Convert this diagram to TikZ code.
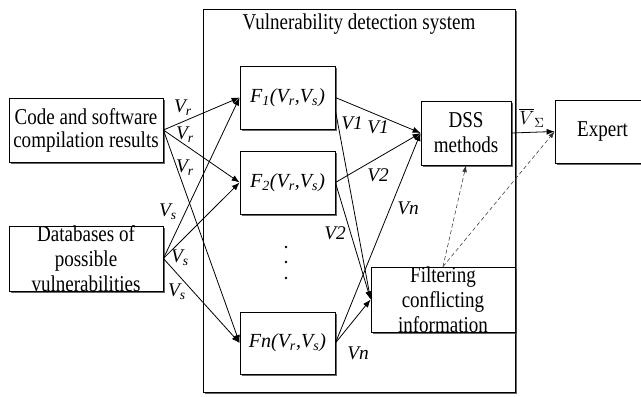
\documentclass[tikz,border=0pt]{standalone}
\usepackage{fontspec}
\setmainfont{Liberation Serif}
\newfontfamily\condfont{Liberation Serif}[FakeStretch=0.84]
\usetikzlibrary{arrows.meta,shadows}

\tikzset{
  blk/.style={draw,fill=white,inner sep=0pt,line width=0.6pt,
    drop shadow={shadow xshift=1.2pt,shadow yshift=-1.2pt,fill=black!75,opacity=0.8}},
  txt/.style={align=center,inner sep=0pt,font=\condfont\fontsize{17}{18.75}\selectfont},
  lbl/.style={inner sep=0pt,font=\fontsize{14.5}{17}\selectfont\itshape},
  flbl/.style={inner sep=0pt,font=\fontsize{15}{17}\selectfont\itshape},
  arr/.style={-{Latex[length=6pt,width=4.5pt]},line width=0.6pt},
  dsh/.style={-{Latex[length=5pt,width=3.5pt]},densely dashed,line width=0.4pt,draw=black!80}
}

\begin{document}
\begin{tikzpicture}[x=0.75pt,y=-0.75pt]
\useasboundingbox (0,0) rectangle (641,396);
% system frame
\node[blk,minimum width=234pt,minimum height=287.25pt] (sys) at (359.5,200.5) {};
\node[txt] (title) at (359,24) {Vulnerability detection system};
% inputs
\node[blk,minimum width=115.5pt,minimum height=48pt,
  label={[txt,font=\condfont\fontsize{17}{17.25}\selectfont]center:Code and software\\compilation results}] (code) at (86,130) {};
\node[blk,minimum width=115.5pt,minimum height=48.75pt,
  label={[txt]center:Databases of\\possible\\vulnerabilities}] (db) at (86,258.5) {};
% functions
\node[blk,minimum width=71.25pt,minimum height=47.25pt,flbl] (f1) at (287.5,97.5)
  {F\textsubscript{1}(V\textsubscript{r},V\textsubscript{s})};
\node[blk,minimum width=71.25pt,minimum height=47.25pt,flbl] (f2) at (287.5,182.5)
  {F\textsubscript{2}(V\textsubscript{r},V\textsubscript{s})};
\node[blk,minimum width=71.25pt,minimum height=46.5pt,flbl] (fn) at (287.5,343)
  {Fn(V\textsubscript{r},V\textsubscript{s})};
\foreach \y in {247,262,278}
  \fill (286,\y) circle (1.3);
% outputs
\node[blk,minimum width=67.5pt,minimum height=48pt,
  label={[txt]center:DSS\\methods}] (dss) at (466,133) {};
\node[blk,minimum width=108pt,minimum height=48.75pt,
  label={[txt]center:Filtering\\conflicting\\information}] (filt) at (443,299.5) {};
\node[blk,minimum width=71.25pt,minimum height=47.25pt,txt] (expert) at (602.5,131.5) {Expert};

\foreach \a/\b in {code/f1,code/f2,code/fn,db/f1,db/f2,db/fn,f1/dss,f2/dss,fn/dss,f2/filt,fn/filt,dss/expert}
  \draw[arr] (\a.east) -- (\b.west);
\draw[arr] (f1.-15) -- (filt.west);
\draw[dsh] (filt.north) -- (dss.south);
\draw[dsh] (filt.north) -- (expert.west);

% labels
\foreach \p/\t in {{183,108}/V\textsubscript{r},{185,135}/V\textsubscript{r},{185,168}/V\textsubscript{r},
  {168,212}/V\textsubscript{s},{180,258}/V\textsubscript{s},{177,292}/V\textsubscript{s},
  {352,123}/V1,{378,127}/V1,{378,175}/V2,{335,233}/V2,{408,208}/Vn,{358,353}/Vn}
  \node[lbl] at (\p) {\t};
\node[lbl] (vsum) at (532,118) {$\overline{V}_{\Sigma}$};
\end{tikzpicture}
\end{document}
